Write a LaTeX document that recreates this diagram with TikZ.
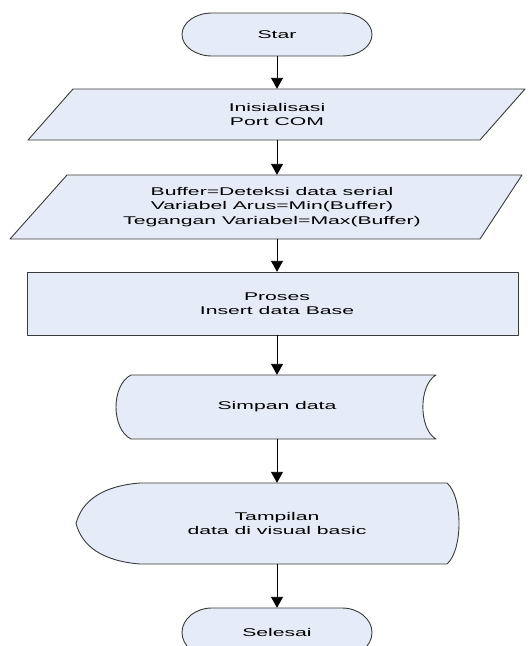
\documentclass[tikz,border=0pt]{standalone}
\usepackage{fontspec}
\setmainfont[FakeStretch=1.89]{Liberation Sans}
\usetikzlibrary{arrows.meta}
\definecolor{fcfill}{HTML}{E6ECF7}
\definecolor{fcline}{HTML}{3A3A3A}
\tikzset{
  fcshape/.style={fill=fcfill, draw=fcline, line width=0.9pt, line join=round},
  lbl/.style={inner sep=0pt, align=center, font=\fontsize{11.2}{14.5}\selectfont},
  flow/.style={draw=black, line width=0.9pt, -{Triangle[width=12pt,length=11pt]}},
}
\begin{document}
\begin{tikzpicture}[x=1pt,y=-1pt]
\useasboundingbox (0,0) rectangle (531,646);
\clip (0,0) rectangle (531,646);

% start terminator
\path[fcshape] (212,13) -- (342,13) arc(-90:90:30 and 21.5) -- (212,56) arc(90:270:30 and 21.5) -- cycle;
% input: port initialisation
\path[fcshape] (73,89) -- (525,89) -- (480,140) -- (28,140) -- cycle;
% input: serial buffer
\path[fcshape] (67,175) -- (522,175) -- (480,239) -- (10,239) -- cycle;
% process box
\path[fcshape] (27,272) rectangle (518,335);
% stored data
\path[fcshape] (131,375) -- (436,375) .. controls (418.5,385) and (418.5,429) .. (436,439)
  -- (131,439) .. controls (111,429) and (111,385) .. (131,375) -- cycle;
% display
\path[fcshape] (140,483) -- (447,483) .. controls (463,497) and (463,550) .. (447,564)
  -- (140,564) .. controls (102,561) and (82,546) .. (76,523.5)
  .. controls (82,501) and (102,486) .. (140,483) -- cycle;
% end terminator
\path[fcshape] (212,608) -- (342,608) arc(-90:90:30 and 24.5) -- (212,657) arc(90:270:30 and 24.5) -- cycle;

% labels, sized to the outline of each symbol
\node[lbl, minimum height=43pt] (star) at (277,34.5) {Star};
\node[lbl, minimum height=51pt] (init) at (277,114.5) {Inisialisasi\\Port COM};
\node[lbl, minimum height=64pt] (buf) at (272,207) {Buffer=Deteksi data serial\\Variabel Arus=Min(Buffer)\\Tegangan Variabel=Max(Buffer)};
\node[lbl, minimum height=63pt] (proc) at (277,303.5) {Proses\\Insert data Base};
\node[lbl, minimum height=64pt] (save) at (277,407) {Simpan data};
\node[lbl, minimum height=81pt] (disp) at (277,523.5) {Tampilan\\data di visual basic};
\node[lbl, minimum height=49pt] (stop) at (277,632.5) {Selesai};

% flow lines
\draw[flow] (star.south -| 277,0) -- (init.north -| 277,0);
\draw[flow] (init.south -| 277,0) -- (buf.north -| 277,0);
\draw[flow] (buf.south -| 277,0) -- (proc.north -| 277,0);
\draw[flow] (proc.south) -- (save.north);
\draw[flow] (save.south) -- (disp.north);
\draw[flow] (disp.south) -- (stop.north);
\end{tikzpicture}
\end{document}
